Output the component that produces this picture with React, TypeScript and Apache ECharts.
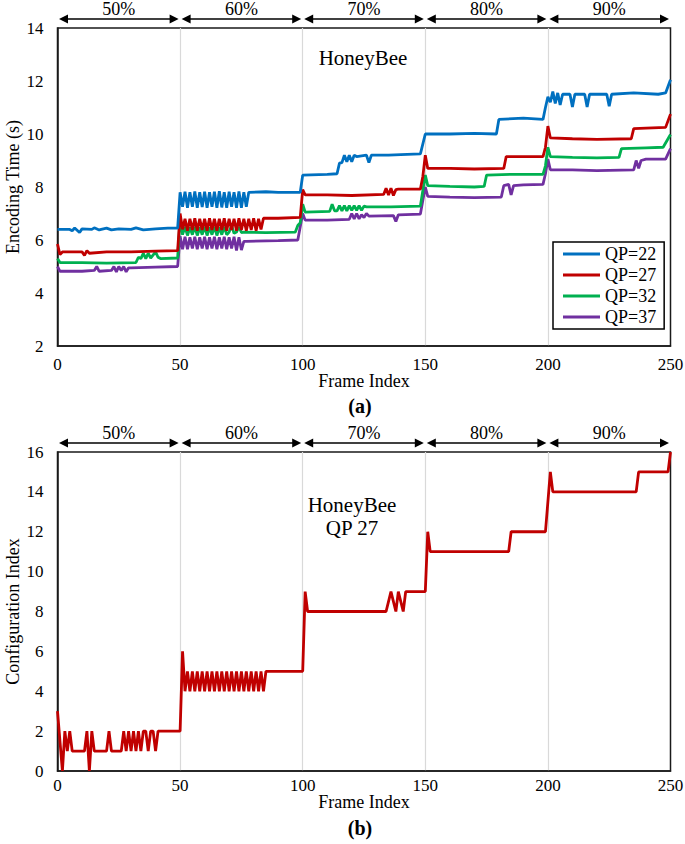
import React, { useEffect, useRef } from "react";
import * as echarts from "echarts";

const FONT = "'Liberation Serif', 'Times New Roman', serif";

const segStarts = [0, 50, 100, 150, 200];
const segEnds = [50, 100, 150, 200, 250];
const segLabels = ["50%", "60%", "70%", "80%", "90%"];

const seriesNames = ["QP=22", "QP=27", "QP=32", "QP=37"];
const seriesColors = ["#0070C0", "#C00000", "#00B050", "#7030A0"];

const qp22: number[][] = [
  [0, 6.4], [5, 6.4], [6, 6.35], [7, 6.45], [9, 6.28], [10, 6.42], [14, 6.4], [15, 6.46], [17, 6.38], [20, 6.45],
  [22, 6.38], [25, 6.42], [30, 6.4], [32, 6.46], [35, 6.38], [40, 6.42], [45, 6.45], [49, 6.45],
  [50, 7.8], [51, 7.25], [52, 7.82], [53, 7.22], [54, 7.8], [55, 7.25], [56, 7.83], [57, 7.22], [58, 7.8], [59, 7.24],
  [60, 7.82], [61, 7.22], [62, 7.8], [63, 7.25], [64, 7.82], [65, 7.22], [66, 7.84], [67, 7.23], [68, 7.8], [69, 7.22],
  [70, 7.82], [71, 7.25], [72, 7.8], [73, 7.22], [74, 7.83], [75, 7.22], [76, 7.8], [77, 7.25], [78, 7.8],
  [85, 7.82], [90, 7.8], [99, 7.8],
  [100, 8.45], [110, 8.48], [114, 8.5], [115, 8.9], [116, 8.92], [117, 9.2], [118, 8.95], [119, 9.2], [120, 8.95],
  [121, 9.2], [122, 9.15], [126, 9.2], [127, 8.92], [128, 9.2], [135, 9.2], [140, 9.22], [148, 9.25],
  [150, 10.0], [160, 10.0], [170, 10.02], [179, 10.0],
  [180, 10.55], [190, 10.6], [198, 10.55], [199, 11.0],
  [200, 11.4], [201, 11.2], [202, 11.6], [203, 11.15], [204, 11.55], [205, 11.1], [206, 11.5], [209, 11.5],
  [210, 11.02], [211, 11.5], [215, 11.5], [216, 11.02], [217, 11.5], [224, 11.5], [225, 11.05], [226, 11.5],
  [235, 11.55], [245, 11.5], [248, 11.55], [250, 12.05],
];

const qp27: number[][] = [
  [0, 5.85], [1, 5.45], [2, 5.55], [10, 5.55], [11, 5.42], [12, 5.6], [13, 5.5], [20, 5.55], [30, 5.55], [40, 5.58], [49, 5.6],
  [50, 7.0], [51, 6.4], [52, 6.8], [53, 6.35], [54, 6.8], [55, 6.38], [56, 6.82], [57, 6.35], [58, 6.8], [59, 6.38],
  [60, 6.8], [61, 6.35], [62, 6.82], [63, 6.38], [64, 6.8], [65, 6.35], [66, 6.8], [67, 6.38], [68, 6.82], [69, 6.35],
  [70, 6.8], [71, 6.38], [72, 6.8], [73, 6.35], [74, 6.82], [75, 6.38], [76, 6.8], [77, 6.35], [78, 6.8], [79, 6.38],
  [80, 6.82], [81, 6.35], [82, 6.8], [83, 6.4], [84, 6.82], [90, 6.82], [99, 6.85],
  [100, 7.9], [101, 7.7], [110, 7.7], [120, 7.68], [133, 7.72], [134, 7.95], [135, 7.7], [136, 7.95], [137, 7.68],
  [138, 7.9], [139, 7.92], [148, 7.92], [149, 8.4],
  [150, 9.2], [151, 8.7], [160, 8.7], [170, 8.68], [182, 8.7], [183, 9.15], [190, 9.15], [198, 9.15], [199, 9.5],
  [200, 10.3], [201, 9.85], [210, 9.82], [220, 9.8], [234, 9.82], [235, 10.2], [240, 10.22], [248, 10.25], [250, 10.75],
];

const qp32: number[][] = [
  [0, 5.3], [1, 5.15], [10, 5.15], [20, 5.13], [32, 5.15], [33, 5.35], [34, 5.3], [35, 5.5], [36, 5.3], [37, 5.5],
  [38, 5.32], [40, 5.55], [41, 5.35], [42, 5.3], [49, 5.32],
  [50, 6.85], [51, 6.2], [52, 6.5], [53, 6.17], [54, 6.48], [55, 6.2], [56, 6.5], [57, 6.17], [58, 6.48], [59, 6.2],
  [60, 6.5], [61, 6.17], [62, 6.48], [63, 6.2], [64, 6.5], [65, 6.17], [66, 6.48], [67, 6.2], [68, 6.5], [69, 6.2],
  [70, 6.3], [71, 6.55], [72, 6.25], [73, 6.3], [74, 6.5], [75, 6.28], [76, 6.3], [85, 6.28], [97, 6.3], [98, 6.55], [99, 6.65],
  [100, 7.35], [101, 7.05], [111, 7.08], [112, 7.35], [113, 7.1], [114, 7.1], [115, 7.3], [116, 7.1], [117, 7.3],
  [118, 7.1], [119, 7.3], [120, 7.12], [121, 7.3], [122, 7.12], [123, 7.3], [124, 7.12], [125, 7.28], [126, 7.25],
  [136, 7.25], [148, 7.28],
  [150, 8.45], [151, 8.05], [160, 8.02], [170, 8.0], [174, 8.02], [175, 8.45], [185, 8.48], [198, 8.48], [199, 8.8],
  [200, 9.5], [201, 9.15], [210, 9.12], [220, 9.1], [229, 9.12], [230, 9.45], [240, 9.48], [247, 9.5], [250, 9.98],
];

const qp37: number[][] = [
  [0, 5.0], [1, 4.82], [10, 4.82], [15, 4.85], [16, 5.0], [17, 4.82], [22, 4.85], [23, 5.0], [24, 4.8], [25, 5.0],
  [26, 4.85], [27, 5.0], [28, 4.8], [29, 4.95], [30, 4.95], [40, 4.98], [49, 5.0],
  [50, 6.15], [51, 5.65], [52, 6.12], [53, 5.65], [54, 6.1], [55, 5.68], [56, 6.12], [57, 5.65], [58, 6.1], [59, 5.68],
  [60, 6.12], [61, 5.65], [62, 6.1], [63, 5.68], [64, 6.12], [65, 5.65], [66, 6.1], [67, 5.68], [68, 6.12], [69, 5.65],
  [70, 6.1], [71, 5.68], [72, 6.12], [73, 5.6], [74, 6.1], [75, 5.62], [76, 5.95], [77, 5.95], [90, 5.98], [98, 6.0], [99, 6.5],
  [100, 7.0], [101, 6.75], [110, 6.75], [119, 6.78], [120, 7.0], [121, 6.8], [122, 7.0], [123, 6.8], [124, 6.95],
  [125, 6.85], [126, 7.0], [127, 6.9], [137, 6.92], [138, 6.7], [139, 6.95], [148, 6.98], [149, 7.5],
  [150, 8.0], [151, 7.65], [160, 7.62], [170, 7.6], [181, 7.62], [182, 8.05], [184, 8.1], [185, 7.7], [186, 8.05],
  [190, 8.08], [198, 8.1], [199, 8.5],
  [200, 9.05], [201, 8.65], [210, 8.65], [220, 8.62], [235, 8.65], [236, 9.0], [237, 8.7], [238, 9.0], [240, 9.05],
  [248, 9.05], [250, 9.45],
];

const configIdx: number[][] = [
  [0, 3], [2, 0], [3, 2], [4, 1], [5, 2], [6, 1], [11, 1], [12, 2], [13, 0], [14, 2], [15, 1], [20, 1], [21, 2], [22, 1],
  [26, 1], [27, 2], [28, 1], [29, 2], [30, 1], [31, 2], [32, 1], [33, 2], [34, 1], [35, 2], [36, 2], [37, 1], [38, 2],
  [39, 2], [40, 1], [41, 2], [50, 2],
  [51, 6], [52, 4], [53, 5], [54, 4], [55, 5], [56, 4], [57, 5], [58, 4], [59, 5], [60, 4], [61, 5], [62, 4], [63, 5],
  [64, 4], [65, 5], [66, 4], [67, 5], [68, 4], [69, 5], [70, 4], [71, 5], [72, 4], [73, 5], [74, 4], [75, 5], [76, 4],
  [77, 5], [78, 4], [79, 5], [80, 4], [81, 5], [82, 4], [83, 5], [84, 4], [85, 5], [100, 5],
  [101, 9], [102, 8], [134, 8], [136, 9], [138, 8], [139, 9], [141, 8], [142, 9], [150, 9],
  [151, 12], [152, 11], [184, 11], [185, 12], [199, 12], [201, 15], [202, 14], [236, 14], [237, 15], [249, 15], [250, 16],
];

function arrowSeries(gridIdx: number, yTop: number) {
  return {
    type: "custom",
    xAxisIndex: gridIdx,
    yAxisIndex: gridIdx,
    silent: true,
    clip: false,
    z: 10,
    data: segStarts.map((s, i) => [s, segEnds[i], yTop]),
    encode: { x: [0, 1], y: 2 },
    renderItem: (params: any, api: any) => {
      const a = api.coord([api.value(0), api.value(2)]);
      const b = api.coord([api.value(1), api.value(2)]);
      const y = a[1] - 9;
      const xl = a[0] + 1.5;
      const xr = b[0] - 1.5;
      const h = 9;
      const w = 4.5;
      return {
        type: "group",
        children: [
          { type: "line", shape: { x1: xl + h - 1, y1: y, x2: xr - h + 1, y2: y }, style: { stroke: "#000", lineWidth: 1.3 } },
          { type: "polygon", shape: { points: [[xl, y], [xl + h, y - w], [xl + h, y + w]] }, style: { fill: "#000" } },
          { type: "polygon", shape: { points: [[xr, y], [xr - h, y - w], [xr - h, y + w]] }, style: { fill: "#000" } },
          {
            type: "text",
            x: (xl + xr) / 2,
            y: y - 1,
            style: { text: segLabels[params.dataIndex], align: "center", verticalAlign: "bottom", fontSize: 18, fontFamily: FONT, fill: "#000" },
          },
        ],
      };
    },
  };
}

function xAxisCfg(gridIndex: number, labelMargin: number, nameGap: number) {
  return {
    type: "value",
    gridIndex,
    min: 0,
    max: 250,
    interval: 50,
    axisLine: { show: true, lineStyle: { color: "#1a1a1a", width: 1.5 } },
    axisTick: { show: false },
    axisLabel: { fontSize: 17, fontFamily: FONT, color: "#000", margin: labelMargin },
    splitLine: { show: true, showMinLine: false, showMaxLine: false, lineStyle: { color: "#d9d9d9", width: 1.2 } },
    name: "Frame Index",
    nameLocation: "middle",
    nameGap,
    nameMoveOverlap: false,
    nameTextStyle: { fontSize: 18, fontFamily: FONT, color: "#000" },
  };
}

function yAxisCfg(gridIndex: number, min: number, max: number, name: string) {
  return {
    type: "value",
    gridIndex,
    min,
    max,
    interval: 2,
    axisLine: { show: true, lineStyle: { color: "#1a1a1a", width: 1.5 } },
    axisTick: { show: false },
    axisLabel: { fontSize: 17, fontFamily: FONT, color: "#000", margin: 14 },
    splitLine: { show: false },
    name,
    nameLocation: "middle",
    nameGap: 36,
    nameMoveOverlap: false,
    nameTextStyle: { fontSize: 18, fontFamily: FONT, color: "#000" },
  };
}

export default function App() {
  const ref = useRef<HTMLDivElement>(null);
  useEffect(() => {
    if (!ref.current) return;
    const chart = echarts.init(ref.current, null, { renderer: "svg" });
    const qpData = [qp22, qp27, qp32, qp37];
    chart.setOption({
      animation: false,
      backgroundColor: "#fff",
      textStyle: { fontFamily: FONT },
      grid: [
        { left: 57.5, top: 28, width: 613, height: 318, show: true, borderColor: "#1a1a1a", borderWidth: 1.5, containLabel: false, outerBoundsMode: "none" },
        { left: 57.5, top: 452, width: 613, height: 319, show: true, borderColor: "#1a1a1a", borderWidth: 1.5, containLabel: false, outerBoundsMode: "none" },
      ],
      xAxis: [xAxisCfg(0, 10, 26), xAxisCfg(1, 6, 22)],
      yAxis: [yAxisCfg(0, 2, 14, "Encoding Time (s)"), yAxisCfg(1, 0, 16, "Configuration Index")],
      legend: {
        data: seriesNames,
        orient: "vertical",
        left: 553,
        top: 242,
        padding: [3, 8, 3, 10],
        itemGap: 3,
        itemWidth: 37,
        itemHeight: 3,
        icon: "rect",
        borderColor: "#000",
        borderWidth: 1.5,
        borderRadius: 0,
        backgroundColor: "#fff",
        textStyle: { fontSize: 18, fontFamily: FONT, color: "#000", lineHeight: 17.5 },
      },
      series: [
        ...seriesNames.map((n, i) => ({
          name: n,
          type: "line",
          xAxisIndex: 0,
          yAxisIndex: 0,
          data: qpData[i],
          symbol: "none",
          showSymbol: false,
          lineStyle: { color: seriesColors[i], width: 2.8 },
          itemStyle: { color: seriesColors[i] },
          z: 5 - i,
        })),
        {
          name: "Configuration",
          type: "line",
          xAxisIndex: 1,
          yAxisIndex: 1,
          data: configIdx,
          symbol: "none",
          showSymbol: false,
          lineStyle: { color: "#C00000", width: 2.8 },
          itemStyle: { color: "#C00000" },
        },
        arrowSeries(0, 14),
        arrowSeries(1, 16),
      ],
      graphic: [
        { type: "text", x: 363, y: 58, style: { text: "HoneyBee", align: "center", verticalAlign: "middle", fontSize: 21, fontFamily: FONT, fill: "#000" } },
        { type: "text", x: 352, y: 505, style: { text: "HoneyBee", align: "center", verticalAlign: "middle", fontSize: 21, fontFamily: FONT, fill: "#000" } },
        { type: "text", x: 352, y: 528, style: { text: "QP 27", align: "center", verticalAlign: "middle", fontSize: 21, fontFamily: FONT, fill: "#000" } },
        { type: "text", x: 360, y: 406, style: { text: "(a)", align: "center", verticalAlign: "middle", fontSize: 20, fontWeight: "bold", fontFamily: FONT, fill: "#000" } },
        { type: "text", x: 360, y: 828, style: { text: "(b)", align: "center", verticalAlign: "middle", fontSize: 20, fontWeight: "bold", fontFamily: FONT, fill: "#000" } },
      ],
    });
    return () => chart.dispose();
  }, []);
  return <div ref={ref} style={{ position: "absolute", left: 0, top: 0, width: 685, height: 844 }} />;
}
